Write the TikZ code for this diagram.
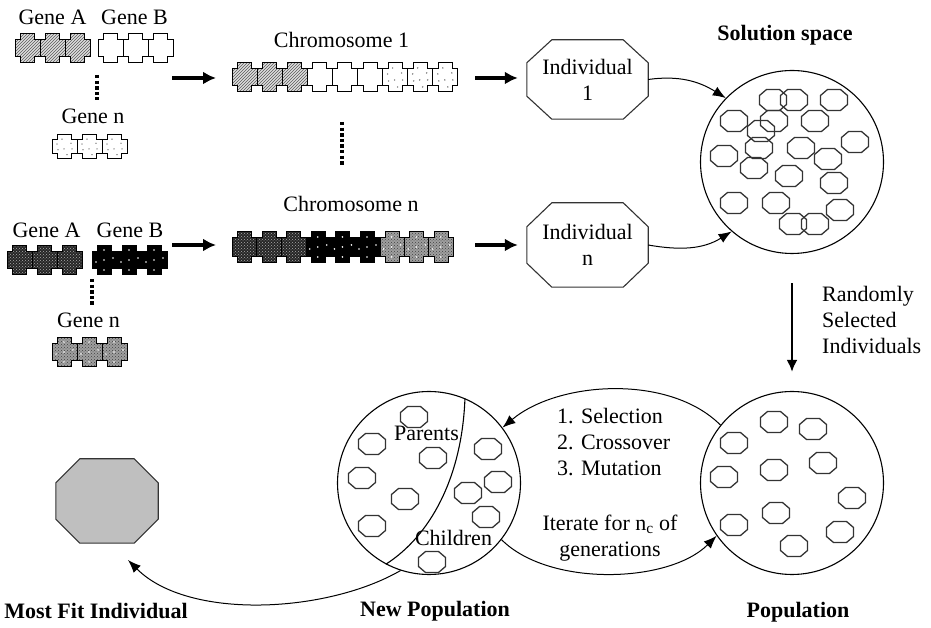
\documentclass[tikz,border=0pt]{standalone}
\usepackage{fontspec}
\setmainfont{Liberation Serif}
\usetikzlibrary{arrows.meta,patterns,calc}

% octagonal frame drawn round a rectangular node
\newcommand\octoframe[4]{%
  \draw[#4] ($(#1.north west)+(#2,0)$) -- ($(#1.north east)+(-#2,0)$)
    -- ($(#1.north east)+(0,-#3)$) -- ($(#1.south east)+(0,#3)$)
    -- ($(#1.south east)+(-#2,0)$) -- ($(#1.south west)+(#2,0)$)
    -- ($(#1.south west)+(0,#3)$) -- ($(#1.north west)+(0,-#3)$) -- cycle;}

\tikzset{
  lbl/.style={font=\fontsize{22}{26}\selectfont, inner sep=0pt},
  blbl/.style={font=\fontsize{22}{26}\selectfont\bfseries, inner sep=0pt},
  pool/.style={circle, draw, line width=1.1pt, minimum size=183pt, inner sep=0pt},
  octline/.style={draw=black!80, line width=1.1pt},
  cellline/.style={draw=black!80, line width=1.3pt},
  thickarr/.style={line width=3.2pt, -{Latex[length=13pt,width=13pt]}},
  thinarr/.style={line width=1pt, -{Latex[length=13pt,width=10pt]}},
  dotline/.style={line width=3.6pt, dash pattern=on 3.4pt off 2.2pt},
  % gene fillings
  hatchA/.style={preaction={fill=gray!25}, pattern=north east lines, pattern color=black!65, draw=black, line width=1pt},
  plainB/.style={fill=white, draw=black, line width=1pt},
  darkA/.style={preaction={fill=black!85}, pattern=crosshatch dots, pattern color=gray!65, draw=black, line width=1pt},
  blackB/.style={fill=black, draw=black, line width=1pt},
  grayN/.style={preaction={fill=gray!75}, pattern=crosshatch dots, pattern color=black!75, draw=black, line width=1pt},
  % one gene: a cross-shaped tile, left edge at the origin
  pics/geneunit/.style={code={
    \draw[#1] (5.5,-14.5) -- (19.5,-14.5) -- (19.5,-8.5) -- (25,-8.5) -- (25,8.5) -- (19.5,8.5)
      -- (19.5,14.5) -- (5.5,14.5) -- (5.5,8.5) -- (0,8.5) -- (0,-8.5) -- (5.5,-8.5) -- cycle;}},
  pics/specks/.style={code={
    \foreach \p in {(5,3),(12,-3),(19,4),(10,9),(15,-10),(20,-3),(6,-4)}
      \fill[#1] \p circle (0.8);}},
  pics/wspecks/.style={code={
    \foreach \p in {(12,0),(4,-2),(21,2),(12,-10),(12,10)}
      \fill[#1] \p circle (0.9);}},
  pics/cell/.style={code={
    \draw[cellline] (-6.5,-10.5) -- (6.5,-10.5) -- (13.5,-4.5) -- (13.5,4.5)
      -- (6.5,10.5) -- (-6.5,10.5) -- (-13.5,4.5) -- (-13.5,-4.5) -- cycle;}}
}

\begin{document}
\begin{tikzpicture}[x=1pt,y=1pt]
\useasboundingbox (0,0) rectangle (931,628);

% ---------- genes of the first chromosome ----------
\node[lbl] (gA1) at (52.5,610.5) {Gene A};
\node[lbl] (gB1) at (134.5,610.5) {Gene B};
\node[lbl] (gN1) at (93,511.5) {Gene n};
\foreach \k in {0,1,2} {
  \pic at ({15+25*\k},580) {geneunit=hatchA};
  \pic at ({98+25*\k},580) {geneunit=plainB};
  \pic[yscale=0.82] at ({52+25*\k},481.5) {geneunit=plainB};
  \pic[yscale=0.82] at ({52+25*\k},481.5) {specks=black!55};
}
\draw[dotline] (97,553) -- (97,528);

% ---------- chromosome 1 ----------
\node[lbl] (ch1) at (341.5,588.5) {Chromosome 1};
\foreach \k in {0,1,2} {
  \pic at ({232+25.1*\k},551) {geneunit=hatchA};
  \pic at ({232+25.1*(\k+3)},551) {geneunit=plainB};
  \pic at ({232+25.1*(\k+6)},551) {geneunit=plainB};
  \pic at ({232+25.1*(\k+6)},551) {specks=black!55};
}
\draw[dotline] (342,506) -- (342,463);

% ---------- genes of the n-th chromosome ----------
\node[lbl] (gA2) at (46.5,398) {Gene A};
\node[lbl] (gB2) at (130,398) {Gene B};
\node[lbl] (gN2) at (88.5,307.5) {Gene n};
\foreach \k in {0,1,2} {
  \pic[yscale=1.03] at ({7+25*\k},368) {geneunit=darkA};
  \pic[yscale=1.03] at ({92+25*\k},368) {geneunit=blackB};
  \pic at ({92+25*\k},368) {wspecks=white};
  \pic[yscale=1.03] at ({52+25*\k},276) {geneunit=grayN};
  \pic at ({52+25*\k},276) {wspecks=white};
}
\draw[dotline] (92,349) -- (92,323);

% ---------- chromosome n ----------
\node[lbl] (chn) at (351,424.5) {Chromosome n};
\foreach \k in {0,1,2} {
  \pic[yscale=1.08] at ({232+24.6*\k},381) {geneunit=darkA};
  \pic[yscale=1.08] at ({232+24.6*(\k+3)},381) {geneunit=blackB};
  \pic at ({232+24.6*(\k+3)},381) {wspecks=white};
  \pic[yscale=1.08] at ({232+24.6*(\k+6)},381) {geneunit=grayN};
  \pic at ({232+24.6*(\k+6)},381) {wspecks=white};
}

% ---------- individuals ----------
\node[lbl, minimum width=121pt, minimum height=79pt, align=center] (ind1) at (587.5,548.5) {Individual\\1};
\octoframe{ind1}{25}{23}{octline}
\node[lbl, minimum width=121pt, minimum height=84pt, align=center] (indn) at (587.5,383) {Individual\\n};
\octoframe{indn}{25}{24}{octline}

% ---------- arrows from genes to chromosomes to individuals ----------
\coordinate (g1out) at (172,550);
\coordinate (c1in) at (216,550);
\coordinate (c1out) at (475,550);
\coordinate (g2out) at (172,383);
\coordinate (c2in) at (216,383);
\coordinate (c2out) at (475,383);
\draw[thickarr] (g1out) -- (c1in);
\draw[thickarr] (c1out) -- ([xshift=-9pt]ind1.west |- c1out);
\draw[thickarr] (g2out) -- (c2in);
\draw[thickarr] (c2out) -- ([xshift=-9pt]indn.west |- c2out);

% ---------- solution space ----------
\node[blbl] (soltitle) at (785,593) {Solution space};
\node[pool] (sol) at (792,466) {};
\foreach \p in {(773,528),(794,528),(834,528),(734,507),(774,507),(815,507),
                (761,497),(855,486),(724,472),(759,480),(801,480),(828,469),
                (754,460),(789,452),(834,445),(734,425),(776,425),(840,418),
                (793,404),(815,404)}
  \pic at \p {cell};
\draw[thinarr] (ind1.east) to[out=8, in=148] (sol.136);
\draw[thinarr] (indn.east) to[out=-10, in=212] (sol.229);

% ---------- random selection ----------
\node[pool] (pop) at (792,145) {};
\draw[line width=2.4pt, -{Latex[length=12pt,width=11pt]}] ([yshift=-29pt]sol.south) -- ([yshift=19pt]pop.north);
\node[lbl, anchor=west, align=left] (randsel) at (822,308) {Randomly\\Selected\\Individuals};

% ---------- population ----------
\node[blbl] (poptitle) at (798,16) {Population};
\foreach \p in {(774,206),(813,199),(734,185),(823,165),(774,158),(724,151),
                (852,130),(776,115),(734,103),(840,96),(794,82)}
  \pic at \p {cell};

% ---------- new population ----------
\node[pool] (newpop) at (429,145) {};
\node[blbl] (newtitle) at (435,17) {New Population};
\draw[line width=1.1pt] (newpop.67) .. controls (462,150) and (430,92) .. (newpop.242);
\foreach \p in {(414,211),(372,184),(433,170),(488,179),(362,150),(498,146),
                (468,135),(405,129),(486,111),(372,102),(432,66)}
  \pic at \p {cell};
\node[lbl] (parents) at (426.5,195) {Parents};
\node[lbl] (children) at (453.5,90) {Children};

% ---------- the generation loop ----------
\draw[thinarr] (pop.141) to[out=135, in=40, looseness=0.85] (newpop.37);
\draw[thinarr] (newpop.-38) to[out=-45, in=-135, looseness=0.8] (pop.215);
\node[lbl, anchor=west, align=left] (ops) at (557,186) {1. Selection\\2. Crossover\\3. Mutation};
\node[lbl, align=center] (iter) at (610,90) {Iterate for n\textsubscript{c} of\\generations};

% ---------- fittest individual ----------
\node[minimum width=102pt, minimum height=84pt, inner sep=0pt] (best) at (107,127) {};
\octoframe{best}{24}{24}{octline, fill=gray!50}
\node[blbl] (besttitle) at (96,17) {Most Fit Individual};
\coordinate (besttip) at (128,68);
\draw[thinarr] (newpop.252) to[out=210, in=-45, looseness=0.8] (besttip);
\end{tikzpicture}
\end{document}
